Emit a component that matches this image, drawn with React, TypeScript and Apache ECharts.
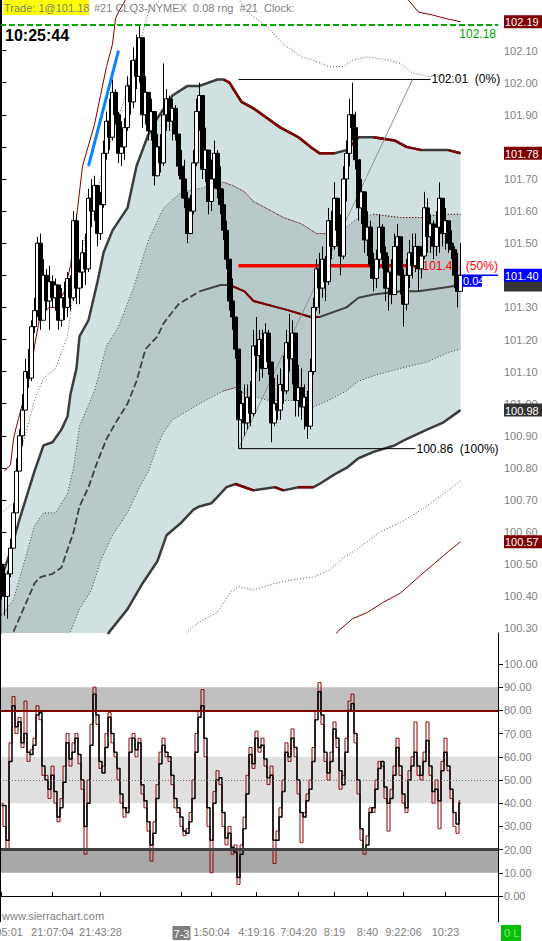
import React, { useEffect, useRef } from "react";
import * as echarts from "echarts";

// ---------- data ----------
const SLOTS = 166; // time slots across the pane width
const PRICE_MIN = 100.2857;
const PRICE_MAX = 102.2576;
const OSC_MIN = -11.21;
const OSC_MAX = 113.36;
const FIRST_OPEN = 100.5;

const closes = [
  100.44, 100.40, 100.47, 100.55, 100.66, 100.79, 100.90, 100.98, 101.10, 101.08,
  101.24, 101.29, 101.50, 101.26, 101.40, 101.32, 101.38, 101.33, 101.37, 101.26,
  101.33, 101.30, 101.39, 101.33, 101.57, 101.36, 101.41, 101.47, 101.42, 101.64,
  101.60, 101.68, 101.53, 101.62, 101.78, 101.88, 101.83, 101.97, 101.90, 101.78,
  101.80, 101.86, 101.99, 101.94, 102.07, 102.02, 102.14, 101.90, 101.97, 101.85,
  101.91, 101.71, 101.80, 101.75, 101.90, 101.95, 101.88, 101.92, 101.84, 101.74,
  101.70, 101.64, 101.53, 101.60, 101.75, 101.91, 101.96, 101.73, 101.79, 101.63,
  101.70, 101.78, 101.67, 101.62, 101.54, 101.45, 101.32, 101.27, 101.17, 100.95,
  101.00, 100.94, 101.02, 100.97, 101.18, 101.15, 101.20, 101.11, 101.22, 101.13,
  100.94, 101.00, 100.98, 101.06, 101.04, 101.19, 101.14, 101.22, 101.01, 101.05,
  100.99, 101.02, 100.93, 101.10, 101.30, 101.42, 101.36, 101.45, 101.38, 101.57,
  101.49, 101.64, 101.54, 101.46, 101.70, 101.78, 101.90, 101.86, 101.76, 101.61,
  101.66, 101.51, 101.55, 101.43, 101.39, 101.45, 101.55, 101.47, 101.36, 101.41,
  101.34, 101.49, 101.52, 101.40, 101.31, 101.40, 101.47, 101.43, 101.49, 101.42,
  101.46, 101.61, 101.52, 101.56, 101.49, 101.55, 101.64, 101.53, 101.57, 101.50,
  101.48, 101.40, 101.35, 101.40,
];
const highs = [
  100.52, 100.49, 100.48, 100.58, 100.69, 100.83, 100.92, 101.03, 101.14, 101.17,
  101.26, 101.33, 101.52, 101.53, 101.45, 101.42, 101.43, 101.40, 101.39, 101.36,
  101.36, 101.38, 101.41, 101.40, 101.60, 101.59, 101.45, 101.51, 101.53, 101.67,
  101.70, 101.71, 101.64, 101.66, 101.82, 101.91, 101.95, 102.01, 101.98, 101.91,
  101.88, 101.89, 102.02, 102.07, 102.11, 102.15, 102.18, 102.14, 102.02, 101.97,
  101.95, 101.86, 101.84, 101.84, 102.06, 101.98, 101.96, 101.95, 101.93, 101.84,
  101.79, 101.76, 101.66, 101.65, 101.79, 101.95, 102.00, 101.95, 101.86, 101.76,
  101.76, 101.82, 101.79, 101.74, 101.67, 101.57, 101.45, 101.39, 101.26, 101.14,
  101.04, 101.06, 101.06, 101.07, 101.23, 101.27, 101.23, 101.23, 101.25, 101.23,
  101.10, 101.08, 101.09, 101.11, 101.15, 101.23, 101.28, 101.26, 101.14, 101.12,
  101.11, 101.06, 101.04, 101.14, 101.33, 101.45, 101.47, 101.49, 101.46, 101.61,
  101.60, 101.69, 101.63, 101.59, 101.74, 101.82, 101.95, 102.00, 101.91, 101.74,
  101.70, 101.64, 101.60, 101.57, 101.47, 101.48, 101.59, 101.56, 101.49, 101.46,
  101.45, 101.53, 101.56, 101.51, 101.42, 101.45, 101.51, 101.53, 101.53, 101.49,
  101.49, 101.66, 101.64, 101.59, 101.57, 101.60, 101.69, 101.63, 101.61, 101.57,
  101.54, 101.49, 101.47, 101.50,
];
const lows = [
  100.39, 100.34, 100.33, 100.46, 100.56, 100.68, 100.80, 100.87, 100.98, 101.05,
  101.07, 101.22, 101.27, 101.23, 101.26, 101.29, 101.23, 101.30, 101.29, 101.23,
  101.24, 101.26, 101.27, 101.29, 101.32, 101.31, 101.31, 101.36, 101.37, 101.41,
  101.55, 101.57, 101.49, 101.51, 101.61, 101.76, 101.79, 101.82, 101.87, 101.75,
  101.74, 101.76, 101.85, 101.90, 101.92, 101.98, 102.00, 101.86, 101.87, 101.82,
  101.82, 101.68, 101.71, 101.72, 101.74, 101.85, 101.85, 101.82, 101.82, 101.71,
  101.64, 101.61, 101.50, 101.53, 101.59, 101.74, 101.85, 101.70, 101.69, 101.59,
  101.60, 101.67, 101.64, 101.59, 101.51, 101.42, 101.29, 101.23, 101.14, 100.86,
  100.86, 100.90, 100.92, 100.93, 100.96, 101.10, 101.07, 101.08, 101.13, 101.09,
  100.88, 100.93, 100.95, 100.95, 101.00, 101.03, 101.10, 101.06, 100.96, 100.96,
  100.95, 100.92, 100.89, 100.92, 101.09, 101.29, 101.28, 101.33, 101.32, 101.37,
  101.45, 101.48, 101.49, 101.40, 101.45, 101.63, 101.74, 101.82, 101.73, 101.57,
  101.56, 101.47, 101.46, 101.39, 101.35, 101.36, 101.42, 101.42, 101.32, 101.29,
  101.31, 101.36, 101.40, 101.34, 101.24, 101.29, 101.36, 101.39, 101.41, 101.35,
  101.39, 101.45, 101.47, 101.47, 101.45, 101.46, 101.47, 101.49, 101.48, 101.47,
  101.45, 101.36, 101.30, 101.35,
];

// Stochastic-like oscillator (%K dark red, %D black)
const kValues = [
  40, 30, 20, 66, 86, 70, 77, 64, 84, 58, 63, 68, 82, 76, 52, 52, 42, 56, 40, 32,
  42, 56, 70, 56, 66, 70, 57, 46, 18, 50, 74, 90, 74, 55, 56, 70, 79, 66, 60, 50,
  40, 34, 38, 68, 70, 60, 68, 44, 38, 28, 15, 32, 48, 62, 68, 60, 58, 48, 38, 36,
  30, 26, 29, 36, 50, 70, 80, 89, 60, 30, 10, 45, 54, 48, 30, 22, 30, 18, 22, 5,
  22, 34, 52, 64, 55, 71, 62, 68, 56, 48, 56, 14, 28, 38, 50, 66, 58, 72, 60, 44,
  23, 36, 44, 50, 64, 80, 92, 74, 58, 50, 62, 75, 64, 46, 52, 68, 84, 87, 66, 44,
  24, 18, 26, 38, 36, 50, 58, 56, 42, 28, 46, 56, 68, 52, 40, 36, 54, 60, 75, 52,
  50, 62, 75, 52, 40, 50, 29, 58, 68, 54, 42, 30, 27, 41,
];
const dValues = [
  39, 39, 24, 58, 82, 73, 75, 66, 70, 62, 61, 65, 78, 79, 56, 50, 46, 52, 45, 34,
  38, 49, 66, 59, 62, 68, 61, 50, 30, 40, 65, 87, 78, 58, 53, 64, 77, 70, 62, 55,
  44, 38, 36, 62, 68, 63, 66, 48, 41, 32, 22, 27, 42, 57, 65, 62, 60, 52, 42, 38,
  34, 28, 27, 32, 42, 62, 77, 82, 68, 38, 24, 40, 50, 51, 36, 25, 27, 21, 19, 8,
  18, 29, 44, 61, 57, 68, 64, 65, 59, 51, 52, 24, 24, 34, 45, 62, 60, 68, 64, 50,
  36, 34, 41, 46, 58, 76, 88, 78, 62, 53, 58, 72, 68, 54, 48, 62, 80, 83, 70, 50,
  29, 20, 22, 36, 38, 46, 55, 58, 47, 40, 42, 52, 64, 56, 44, 38, 50, 56, 62, 56,
  52, 58, 67, 56, 45, 46, 41, 54, 62, 56, 46, 36, 31, 40,
];

// Volume-weighted band lines, [slot, price]
const upperOuter = [[0,100.46],[3,100.54],[6,100.64],[8,100.70],[11,100.79],[14,100.87],[17,100.88],[20,100.92],[22,100.96],[23,101.03],[25,101.11],[26,101.21],[29,101.26],[32,101.38],[34,101.47],[37,101.54],[42,101.61],[45,101.74],[49,101.84],[52,101.89],[57,101.96],[62,101.99],[66,101.99],[72,102.01],[74,102.01],[76,102.00],[78,101.97],[80,101.94],[84,101.92],[90,101.88],[93,101.86],[99,101.83],[103,101.80],[106,101.78],[111,101.78],[115,101.79],[119,101.83],[124,101.83],[131,101.82],[135,101.80],[140,101.79],[149,101.79],[153,101.78]];
const innerUpper = [[0,100.34],[4,100.39],[8,100.52],[11,100.62],[14,100.66],[18,100.66],[22,100.72],[24,100.80],[26,100.93],[31,101.04],[35,101.18],[39,101.24],[44,101.36],[49,101.51],[54,101.61],[60,101.66],[66,101.67],[74,101.69],[77,101.68],[81,101.66],[84,101.63],[90,101.60],[94,101.58],[100,101.56],[105,101.53],[111,101.53],[115,101.55],[119,101.58],[124,101.59],[133,101.58],[140,101.58],[146,101.59],[153,101.59]];
const midLine = [[0,100.24],[4,100.29],[11,100.44],[13,100.46],[17,100.47],[20,100.49],[24,100.60],[26,100.68],[29,100.74],[32,100.82],[35,100.89],[38,100.94],[42,101.00],[45,101.07],[48,101.17],[52,101.21],[54,101.25],[59,101.31],[66,101.35],[73,101.37],[76,101.37],[81,101.35],[84,101.32],[92,101.30],[96,101.29],[103,101.27],[106,101.27],[115,101.30],[119,101.33],[124,101.34],[133,101.35],[139,101.35],[146,101.36],[153,101.37]];
const innerLower = [[0,99.95],[10,100.08],[18,100.20],[23,100.29],[26,100.36],[30,100.42],[33,100.51],[37,100.59],[42,100.66],[46,100.74],[49,100.79],[52,100.87],[54,100.91],[57,100.95],[66,101.00],[74,101.04],[78,101.05],[81,101.03],[89,101.01],[95,101.01],[100,101.01],[104,100.99],[109,101.01],[115,101.04],[119,101.07],[125,101.09],[133,101.11],[142,101.13],[149,101.16],[153,101.17]];
const lowerOuter = [[0,99.70],[15,99.95],[28,100.15],[36,100.29],[42,100.36],[47,100.44],[52,100.51],[55,100.59],[60,100.63],[64,100.67],[66,100.68],[70,100.69],[72,100.71],[75,100.74],[78,100.75],[84,100.73],[91,100.74],[94,100.73],[99,100.74],[104,100.74],[106,100.75],[111,100.78],[115,100.80],[119,100.83],[124,100.85],[131,100.87],[135,100.89],[142,100.92],[147,100.94],[153,100.98]];
const upper25 = [[0,100.66],[4,100.69],[7,100.87],[11,101.01],[14,101.08],[18,101.11],[22,101.21],[24,101.35],[27,101.49],[36,101.81],[41,101.95],[46,102.12],[49,102.22],[57,102.30],[66,102.33],[74,102.31],[79,102.26],[82,102.22],[89,102.17],[94,102.12],[100,102.08],[104,102.07],[109,102.05],[114,102.05],[117,102.07],[122,102.08],[129,102.07],[133,102.06],[137,102.03],[142,102.02],[150,102.02],[153,102.01]];
const lower25 = [[60,100.26],[62,100.29],[66,100.32],[72,100.35],[76,100.41],[79,100.43],[84,100.42],[91,100.44],[96,100.45],[104,100.46],[109,100.48],[114,100.52],[119,100.55],[126,100.60],[133,100.63],[140,100.67],[146,100.71],[153,100.76]];
const upper3 = [[1,100.79],[3,100.81],[4,100.89],[5,100.93],[7,101.00],[9,101.07],[10,101.11],[11,101.18],[13,101.28],[16,101.30],[18,101.30],[21,101.35],[23,101.43],[25,101.58],[27,101.74],[31,101.87],[33,101.96],[35,102.05],[37,102.12],[38,102.20],[39,102.22],[50,102.40],[70,102.50],[90,102.50],[110,102.45],[130,102.32],[139,102.22],[144,102.21],[148,102.20],[153,102.19]];
const lower3 = [[111,100.27],[112,100.29],[117,100.33],[122,100.35],[127,100.38],[133,100.41],[139,100.46],[144,100.50],[149,100.54],[153,100.57]];

// slot ranges where the band lines are drawn dark red
const upperOuterRed = [[74,111],[115,119],[124,140],[149,153]];
const innerUpperRed = [[74,111],[124,153]];
const midRed = [[76,106]];
const midDashed = [[0,66]];
const innerLowerRed = [[74,81]];
const lowerOuterRed = [[78,84],[91,94],[99,104]];

// drawings
const fibStart = 79;
const fibHigh = 102.01, fibHighEnd = 143;
const fibLow = 100.86, fibLowEnd = 138;
const fibMid = 101.43, fibMidEnd = 140;
const trendBlue = [[29,101.74],[39,102.10]];
const fibDiagonal = [[79,100.86],[137,102.01]];
const lastTradeLine = 102.18;
const lastPrice = 101.40;

const priceTicks = [102.1,102.0,101.9,101.8,101.7,101.6,101.5,101.4,101.3,101.2,101.1,101.0,100.9,100.8,100.7,100.6,100.5,100.4,100.3];
const priceLabels = [102.1,102.0,101.9,101.7,101.6,101.5,101.3,101.2,101.1,101.0,100.9,100.8,100.7,100.6,100.5,100.4,100.3];
const oscTicks = [100,90,80,70,60,50,40,30,20,10,0];
const timeLabels = ["20:05:01","21:07:04","21:43:28","7-3","1:50:04","4:19:16","7:04:20","8:19","8:40","9:22:06","10:23"];
const timeIdx = [0,17,33,60,70,85,99,111,122,134,148];

const priceTags = [
  { v: 102.19, bg: "#800000", text: true },
  { v: 101.78, bg: "#800000", text: true },
  { v: 101.37, bg: "#333333", text: false },
  { v: 101.40, bg: "#0000ff", text: true },
  { v: 100.98, bg: "#333333", text: true },
  { v: 100.57, bg: "#800000", text: true },
];

const FONT = '"Liberation Sans", Arial, sans-serif';

export default function App() {
  const ref = useRef<HTMLDivElement>(null);
  useEffect(() => {
    if (!ref.current) return;
    const chart = echarts.init(ref.current, null, { renderer: "svg" });

    const candles = closes.map((c, i) => {
      const o = i === 0 ? FIRST_OPEN : closes[i - 1];
      return [o, c, Math.min(lows[i], o, c), Math.max(highs[i], o, c)];
    });

    const seg = (pts: number[][], a: number, b: number) => pts.filter((p) => p[0] >= a && p[0] <= b);

    const band = (data: any, color: string, width: number, type: any, z: number) => ({
      type: "line", xAxisIndex: 1, yAxisIndex: 0, data, symbol: "none", silent: true, z,
      lineStyle: { color, width, type }, clip: true,
    });

    const segs = (pts: number[][], ranges: number[][], color: string, width: number, type: any, z: number) =>
      ranges.map((r) => band(seg(pts, r[0], r[1]), color, width, type, z));

    const fill = (poly: number[][], color: string) => ({
      type: "custom", xAxisIndex: 1, yAxisIndex: 0, coordinateSystem: "cartesian2d",
      clip: true, silent: true, z: 1, data: [[0, 101]],
      renderItem: (params: any, api: any) => ({
        type: "polygon",
        shape: { points: poly.map((p) => api.coord(p)) },
        style: { fill: color },
      }),
    });

    const lightPoly = [...upperOuter, ...lowerOuter.slice().reverse()];
    const darkPoly = [...innerUpper, ...innerLower.slice().reverse()];

    const slots = Array.from({ length: SLOTS }, (_, i) => String(i));
    const timeSlots = slots.map((_, i) => {
      const k = timeIdx.indexOf(i);
      return k >= 0 ? timeLabels[k] : "";
    });

    const midSolid = seg(midLine, 66, 153);

    const option: any = {
      animation: false,
      backgroundColor: "#ffffff",
      grid: [
        { left: 0, top: 0, width: 498, height: 633, containLabel: false, outerBoundsMode: "none" },
        { left: 0, top: 633, width: 498, height: 289, containLabel: false, outerBoundsMode: "none" },
      ],
      xAxis: [
        { type: "category", gridIndex: 0, data: slots, boundaryGap: true, show: false },
        { type: "value", gridIndex: 0, min: -0.5, max: SLOTS - 0.5, show: false },
        {
          type: "category", gridIndex: 1, data: timeSlots, boundaryGap: true, position: "bottom",
          axisLine: { show: true, lineStyle: { color: "#000", width: 1 } },
          axisTick: {
            show: true, inside: true, length: 4, alignWithLabel: true,
            interval: (i: number) => timeIdx.includes(i), lineStyle: { color: "#000" },
          },
          axisLabel: {
            interval: (i: number) => timeIdx.includes(i), color: "#808080", fontSize: 11,
            fontFamily: FONT, margin: 4, hideOverlap: false,
            formatter: (v: string) => (v === "7-3" ? "{d|7-3}" : v),
            rich: { d: { backgroundColor: "#808080", color: "#ffffff", fontSize: 11, fontFamily: FONT, padding: [2, 1, 1, 1] } },
          },
          splitLine: { show: false },
        },
      ],
      yAxis: [
        {
          type: "value", gridIndex: 0, position: "right", min: PRICE_MIN, max: PRICE_MAX,
          axisLine: { show: true, lineStyle: { color: "#000", width: 1 } },
          axisTick: { show: true, length: 5, lineStyle: { color: "#000" }, customValues: priceTicks },
          axisLabel: { color: "#808080", fontSize: 11, fontFamily: FONT, margin: 6, customValues: priceLabels, formatter: (v: number) => v.toFixed(2) },
          splitLine: { show: false },
        },
        {
          type: "value", gridIndex: 1, position: "right", min: OSC_MIN, max: OSC_MAX,
          axisLine: { show: true, lineStyle: { color: "#000", width: 1 } },
          axisTick: { show: true, length: 5, lineStyle: { color: "#000" }, customValues: oscTicks },
          axisLabel: { color: "#808080", fontSize: 11, fontFamily: FONT, margin: 6, customValues: oscTicks, formatter: (v: number) => v.toFixed(2) },
          splitLine: { show: false },
        },
      ],
      series: [
        fill(lightPoly, "#d1e0e0"),
        fill(darkPoly, "#b9c8c8"),
        band(upper3, "#800000", 1, "solid", 2),
        band(lower3, "#800000", 1, "solid", 2),
        band(upper25, "#555555", 1, [1, 2], 2),
        band(lower25, "#555555", 1, [1, 2], 2),
        band(innerUpper, "#444444", 1, [1, 2], 2),
        ...segs(innerUpper, innerUpperRed, "#800000", 1, [1, 2], 2),
        band(innerLower, "#444444", 1, [1, 2], 2),
        ...segs(innerLower, innerLowerRed, "#800000", 1, [1, 2], 2),
        ...segs(midLine, midDashed, "#404040", 1.8, [7, 3], 2),
        band(midSolid, "#404040", 2, "solid", 2),
        ...segs(midLine, midRed, "#800000", 2, "solid", 2),
        band(upperOuter, "#3c3c3c", 2.5, "solid", 2),
        ...segs(upperOuter, upperOuterRed, "#800000", 2.5, "solid", 2),
        band(lowerOuter, "#3c3c3c", 2.5, "solid", 2),
        ...segs(lowerOuter, lowerOuterRed, "#800000", 2.5, "solid", 2),
        band([[fibStart, fibHigh], [fibHighEnd, fibHigh]], "#000000", 1, "solid", 3),
        band([[fibStart, fibLow], [fibLowEnd, fibLow]], "#000000", 1, "solid", 3),
        band([[fibStart, fibMid], [fibMidEnd, fibMid]], "#ff0000", 3.5, "solid", 3),
        band(fibDiagonal, "#909090", 1, "solid", 3),
        {
          type: "candlestick", xAxisIndex: 0, yAxisIndex: 0, data: candles, barWidth: 4, z: 5, silent: true,
          itemStyle: { color: "#ffffff", color0: "#000000", borderColor: "#000000", borderColor0: "#000000", borderWidth: 1 },
        },
        band(trendBlue, "#0a84ff", 3, "solid", 6),
        band([[-0.5, lastTradeLine], [SLOTS - 0.5, lastTradeLine]], "#00a800", 2, [6, 3], 7),
        band([[153.5, lastPrice], [SLOTS - 0.5, lastPrice]], "#0000ff", 1.5, "solid", 7),
        {
          type: "line", xAxisIndex: 2, yAxisIndex: 1, data: dValues, symbol: "none", silent: true, z: 1,
          lineStyle: { opacity: 0 },
          markArea: {
            silent: true,
            data: [
              [{ yAxis: 80, itemStyle: { color: "#c0c0c0" } }, { yAxis: 90 }],
              [{ yAxis: 40, itemStyle: { color: "#e0e0e0" } }, { yAxis: 60 }],
              [{ yAxis: 10, itemStyle: { color: "#a8a8a8" } }, { yAxis: 20 }],
            ],
          },
          markLine: {
            silent: true, symbol: "none", label: { show: false },
            data: [
              { yAxis: 80, lineStyle: { color: "#800000", width: 2, type: "solid" } },
              { yAxis: 20, lineStyle: { color: "#404040", width: 3, type: "solid" } },
              { yAxis: 50, lineStyle: { color: "#707070", width: 1, type: [1, 2] } },
            ],
          },
        },
        {
          type: "line", xAxisIndex: 2, yAxisIndex: 1, data: kValues, step: "middle", symbol: "none", silent: true, z: 3,
          lineStyle: { color: "#8b0000", width: 1 },
        },
        {
          type: "line", xAxisIndex: 2, yAxisIndex: 1, data: dValues, step: "middle", symbol: "none", silent: true, z: 4,
          lineStyle: { color: "#000000", width: 1.5 },
        },
      ],
    };
    chart.setOption(option);

    const py = (v: number) => chart.convertToPixel({ yAxisIndex: 0 }, v) as number;
    const px = (i: number) => chart.convertToPixel({ xAxisIndex: 1 }, i) as number;
    const txt = (text: string, x: number, y: number, fill: string, font: string, align = "left", z = 50) => ({
      type: "text", x, y, z, silent: true,
      style: { text, fill, font, align, verticalAlign: "middle" },
    });

    const elements: any[] = [
      { type: "line", silent: true, z: 60, shape: { x1: 0.5, y1: 0, x2: 0.5, y2: 922 }, style: { stroke: "#000", lineWidth: 1 } },
      { type: "rect", silent: true, z: 60, shape: { x: 3, y: 0, width: 86, height: 15 }, style: { fill: "#ffff00" } },
      txt("Trade: 1@101.18", 4, 8, "#808080", `11px ${FONT}`, "left", 61),
      txt("#21 CLQ3-NYMEX  0.08 rng  #21  Clock:", 94, 8, "#808080", `11px ${FONT}`, "left", 61),
      txt("10:25:44", 5, 35, "#000000", `bold 16px ${FONT}`, "left", 61),
      txt("www.sierrachart.com", 2, 916, "#808080", `11px ${FONT}`, "left", 61),
      txt("102.18", 496, py(lastTradeLine) + 9, "#00a000", `12px ${FONT}`, "right", 61),
      txt("102.01  (0%)", px(fibHighEnd) + 1, py(fibHigh), "#000000", `12px ${FONT}`, "left", 61),
      txt("100.86  (100%)", px(fibLowEnd) + 1, py(fibLow), "#000000", `12px ${FONT}`, "left", 61),
      txt("101.43  (50%)", px(fibMidEnd) + 1, py(fibMid), "#ff0000", `12px ${FONT}`, "left", 4),
      { type: "rect", silent: true, z: 62, shape: { x: px(153.5), y: py(lastPrice) + 0.5, width: 20, height: 11 }, style: { fill: "#0000ff" } },
      txt("0.04", px(153.5) + 1, py(lastPrice) + 6, "#ffffff", `11px ${FONT}`, "left", 63),
      { type: "rect", silent: true, z: 62, shape: { x: 501, y: 925, width: 20, height: 16 }, style: { fill: "#00c000" } },
      txt("0 L", 504, 933, "#9ad89a", `11px ${FONT}`, "left", 63),
    ];
    priceTags.forEach((t, k) => {
      const y = py(t.v);
      elements.push({ type: "rect", silent: true, z: 70 + k * 2, shape: { x: 504, y: y - 6.5, width: 40, height: 13 }, style: { fill: t.bg } });
      if (t.text) elements.push(txt(t.v.toFixed(2), 505, y + 0.5, "#ffffff", `11px ${FONT}`, "left", 71 + k * 2));
    });
    chart.setOption({ graphic: { elements } });

    return () => chart.dispose();
  }, []);
  return <div ref={ref} style={{ position: "fixed", left: 0, top: 0, width: 542, height: 941, background: "#fff" }} />;
}
